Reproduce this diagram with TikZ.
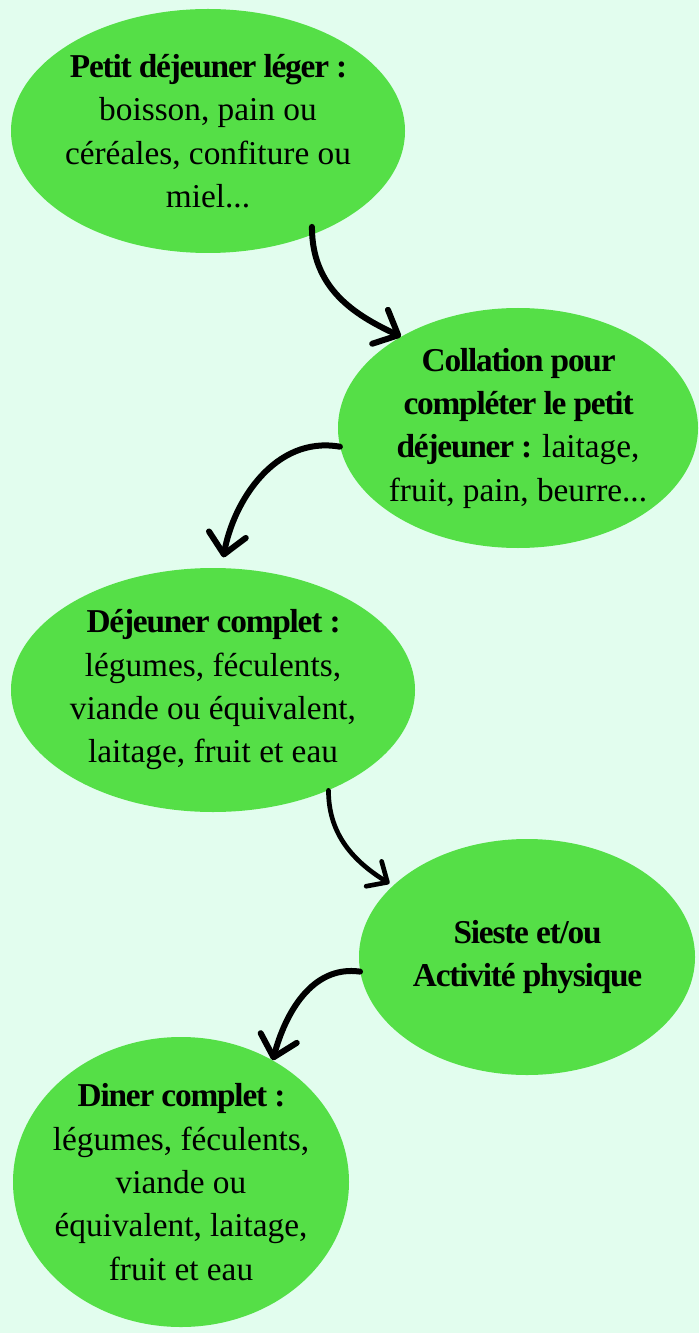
\documentclass[tikz,border=0pt]{standalone}
\usepackage{fontspec}
\setmainfont{Liberation Serif}[BoldFeatures={LetterSpace=-3.6}]
\usetikzlibrary{shapes.geometric,arrows.meta}
\definecolor{fond}{HTML}{E2FDEE}
\definecolor{vert}{HTML}{55DF47}
\begin{document}
\begin{tikzpicture}[x=.75pt,y=.75pt,
  repas/.style={ellipse,fill=vert,inner sep=-20pt,align=center,font=\fontsize{25}{32.5}\selectfont},
  fleche/.style={line width=4.5pt,line cap=round,-{Straight Barb[round,length=15pt,width=28pt]}}]
\fill[fond](0,0)rectangle(699,-1333);
\useasboundingbox (0,0) rectangle (699,-1333);
\node[repas,minimum width=295.5pt,minimum height=183pt](pdj) at (208,-131)
  {\textbf{Petit déjeuner léger :}\\boisson, pain ou\\céréales, confiture ou\\miel...};
\node[repas,minimum width=270pt,minimum height=180pt](col) at (518,-428)
  {\textbf{Collation pour}\\\textbf{compléter le petit}\\\textbf{déjeuner :} laitage,\\fruit, pain, beurre...};
\node[repas,minimum width=303pt,minimum height=183pt](dej) at (213,-690)
  {\textbf{Déjeuner complet :}\\légumes, féculents,\\viande ou équivalent,\\laitage, fruit et eau};
\node[repas,minimum width=252pt,minimum height=177pt](sie) at (527,-957)
  {\textbf{Sieste et/ou}\\\textbf{Activité physique}};
\node[repas,minimum width=252pt,minimum height=217.5pt](din) at (181,-1182)
  {\textbf{Diner complet :}\\légumes, féculents,\\viande ou\\équivalent, laitage,\\fruit et eau};
% les fleches
\draw[fleche,shorten <=-6pt](pdj.-45) to[out=-90,in=155] (col.142);
\draw[fleche,shorten >=8pt](col.-174) to[out=170,in=80] (dej.86);
\draw[fleche,line width=3.5pt,shorten >=3pt,-{Straight Barb[round,length=12pt,width=22pt]}](dej.-41) to[out=-90,in=148] (sie.152);
\draw[fleche](sie.-175) to[out=172,in=75] (din.53);
\end{tikzpicture}
\end{document}
